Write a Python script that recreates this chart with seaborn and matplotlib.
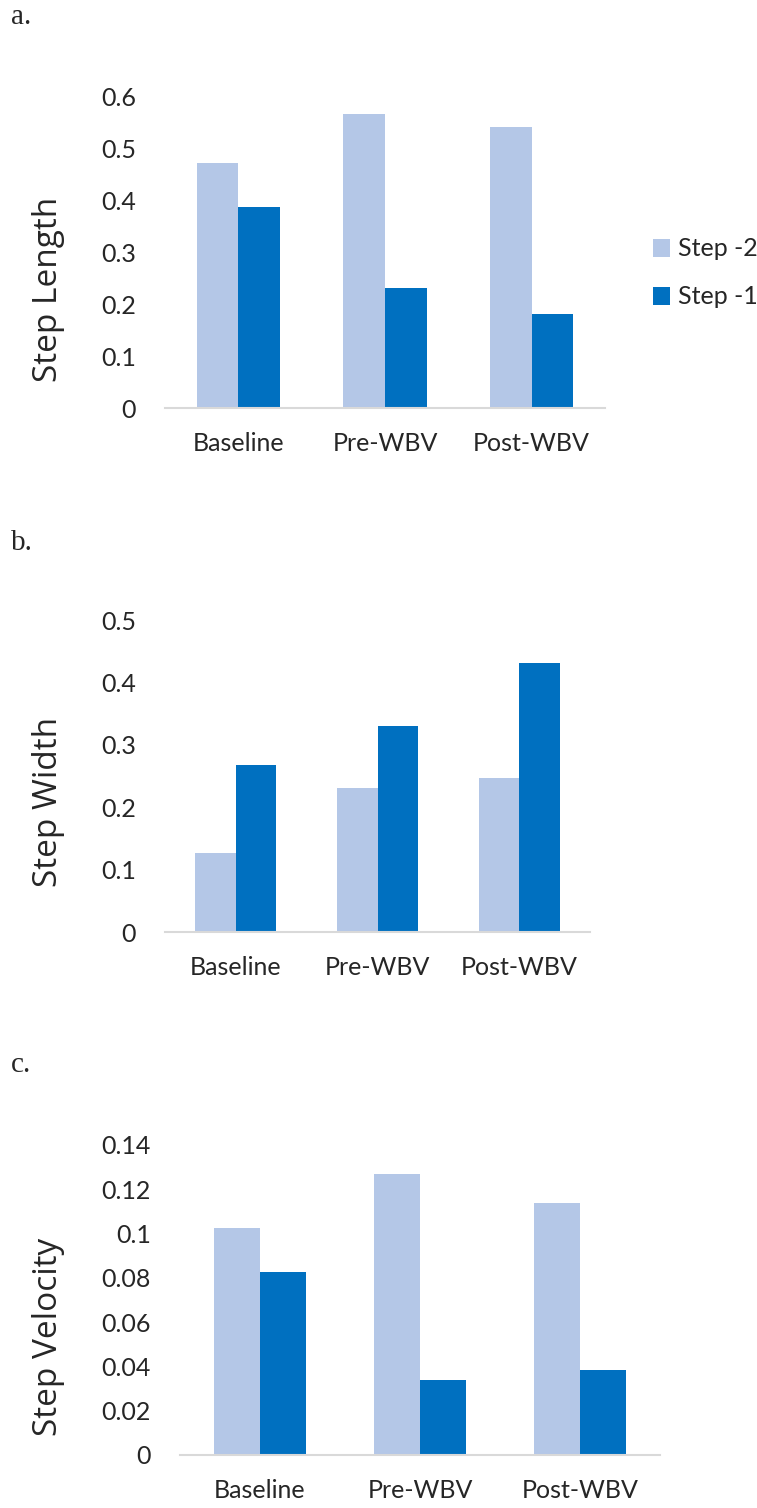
import numpy as np
import pandas as pd
import matplotlib
matplotlib.use("Agg")
import matplotlib.pyplot as plt
import seaborn as sns

conditions = ["Baseline", "Pre-WBV", "Post-WBV"]
series = ["Step -2", "Step -1"]
step_length_m2 = [0.473, 0.568, 0.542]
step_length_m1 = [0.387, 0.231, 0.181]
step_width_m2 = [0.127, 0.231, 0.247]
step_width_m1 = [0.268, 0.330, 0.431]
step_vel_m2 = [0.1024, 0.1267, 0.1136]
step_vel_m1 = [0.0828, 0.0339, 0.0383]

panels = [
    ("a.", "Step Length", step_length_m2, step_length_m1, [0, 0.1, 0.2, 0.3, 0.4, 0.5, 0.6],
     ["0", "0.1", "0.2", "0.3", "0.4", "0.5", "0.6"]),
    ("b.", "Step Width", step_width_m2, step_width_m1, [0, 0.1, 0.2, 0.3, 0.4, 0.5],
     ["0", "0.1", "0.2", "0.3", "0.4", "0.5"]),
    ("c.", "Step Velocity", step_vel_m2, step_vel_m1, [0, 0.02, 0.04, 0.06, 0.08, 0.1, 0.12, 0.14],
     ["0", "0.02", "0.04", "0.06", "0.08", "0.1", "0.12", "0.14"]),
]

sns.set_theme(style="white")
plt.rcParams["font.family"] = ["Lato", "DejaVu Sans"]

W, H = 757, 1508
fig = plt.figure(figsize=(W / 100, H / 100), dpi=100)

# axes rectangles in pixels: left, right, top, bottom
rects = [(165, 605, 97, 408), (165, 590, 620, 932), (180, 660, 1145, 1455)]
label_y = [0.383, 0.417, 0.381]
letter_y = [17, 543, 1065]
palette = {"Step -2": "#B4C7E7", "Step -1": "#0070C0"}

for i, (letter, ylab, v2, v1, ticks, ticklabels) in enumerate(panels):
    l, r, t, b = rects[i]
    ax = fig.add_axes([l / W, (H - b) / H, (r - l) / W, (b - t) / H])
    df = pd.DataFrame({
        "Condition": conditions * 2,
        "Step": [series[0]] * 3 + [series[1]] * 3,
        "value": list(v2) + list(v1),
    })
    sns.barplot(data=df, x="Condition", y="value", hue="Step", hue_order=series,
                order=conditions, palette=palette, saturation=1, width=0.57,
                ax=ax, errorbar=None, linewidth=0, legend=(i == 0))
    ax.set_xlim(-0.5, 2.5)
    ax.set_ylim(0, ticks[-1])
    ax.set_yticks(ticks)
    ax.set_yticklabels(ticklabels)
    ax.tick_params(axis="y", length=0, pad=21, labelsize=18)
    ax.tick_params(axis="x", length=0, pad=17, labelsize=18)
    for s in ["top", "right", "left"]:
        ax.spines[s].set_visible(False)
    ax.spines["bottom"].set_color("#D9D9D9")
    ax.spines["bottom"].set_linewidth(1.5)
    ax.set_xlabel("")
    ax.set_ylabel(ylab, fontsize=24, family=["Open Sans", "DejaVu Sans"])
    ax.yaxis.set_label_coords((65 - l) / (r - l), label_y[i])
    ax.set_facecolor("white")
    fig.text(11 / W, 1 - letter_y[i] / H, letter, family=["Liberation Serif"], fontsize=21,
             va="center", ha="left")
    if i == 0:
        ax.legend(loc="center left", bbox_to_anchor=(640 / W, 1 - 273 / H),
                  bbox_transform=fig.transFigure, frameon=False, fontsize=18,
                  handlelength=0.7, handleheight=0.7, handletextpad=0.3, labelspacing=1.0,
                  borderpad=0)

fig.savefig("out.png", dpi=100, facecolor="white")
